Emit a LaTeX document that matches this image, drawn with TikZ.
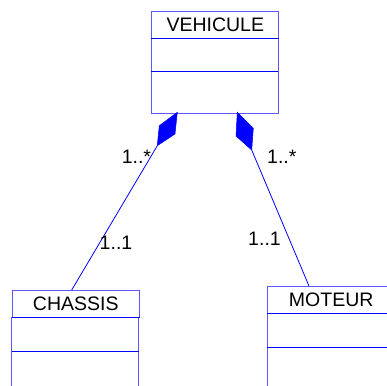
\documentclass[tikz,border=0pt]{standalone}
\usepackage{fontspec}
\setmainfont{Liberation Sans}
\usepackage{xcolor}
\usetikzlibrary{calc}
\definecolor{umlblue}{HTML}{0000FF}
\definecolor{umlframe}{HTML}{5A5AFF}

\tikzset{
  classtitle/.style={draw=umlframe, line width=0.9pt, fill=white, inner sep=0pt,
    minimum width=127pt, minimum height=27pt, font=\fontsize{19.5}{21}\selectfont, text=black},
  compart/.style={draw=umlframe, line width=0.9pt, fill=white},
  sepline/.style={umlblue, line width=0.9pt},
  assoc/.style={umlblue, line width=0.8pt},
  compo/.style={fill=umlblue, draw=umlblue, line width=0.5pt},
  mult/.style={font=\fontsize{19.5}{21}\selectfont, text=black, inner sep=0pt}
}

\begin{document}
\begin{tikzpicture}[x=1pt, y=-1pt]
  \useasboundingbox (0,0) rectangle (387,385);
  \clip (0,0) rectangle (387,385);

  % VEHICULE class
  \node[classtitle] (vehicule) at (215.3,24.7) {VEHICULE};
  \draw[compart] (vehicule.south west) rectangle ++(127,74.3);
  \draw[sepline] ($(vehicule.south west)+(0,33.3)$) -- ++(127,0);
  \draw[sepline] (vehicule.south west) -- (vehicule.south east);

  % CHASSIS class
  \node[classtitle] (chassis) at (75.8,303.6) {CHASSIS};
  \draw[compart] (chassis.south west) rectangle ++(127,80);
  \draw[sepline] ($(chassis.south west)+(0,34)$) -- ++(127,0);
  \draw[sepline] (chassis.south west) -- (chassis.south east);

  % MOTEUR class (cut by the right edge)
  \node[classtitle] (moteur) at (331.2,299.6) {MOTEUR};
  \draw[compart] (moteur.south west) rectangle ++(127,80);
  \draw[sepline] ($(moteur.south west)+(0,33.7)$) -- ++(127,0);
  \draw[sepline] (moteur.south west) -- (moteur.south east);

  % composition ends
  \coordinate (compleft) at (157.3,145.7);
  \coordinate (compright) at (251.7,150);
  \coordinate (chassisend) at (71.7,290);
  \coordinate (moteurend) at (309,286);

  \fill[compo] (177.3,112.3) -- (175,134) -- (compleft) -- (159.3,125.7) -- cycle;
  \fill[compo] (237.3,112.3) -- (253.3,128.3) -- (compright) -- (236,136) -- cycle;

  \draw[assoc] (compleft) -- (chassisend);
  \draw[assoc] (compright) -- (moteurend);

  % multiplicities
  \node[mult] (multvl) at (136.4,157) {1..*};
  \node[mult] (multvr) at (281.8,157) {1..*};
  \node[mult] (multch) at (116,242.5) {1..1};
  \node[mult] (multmo) at (264.5,239) {1..1};

\end{tikzpicture}
\end{document}
